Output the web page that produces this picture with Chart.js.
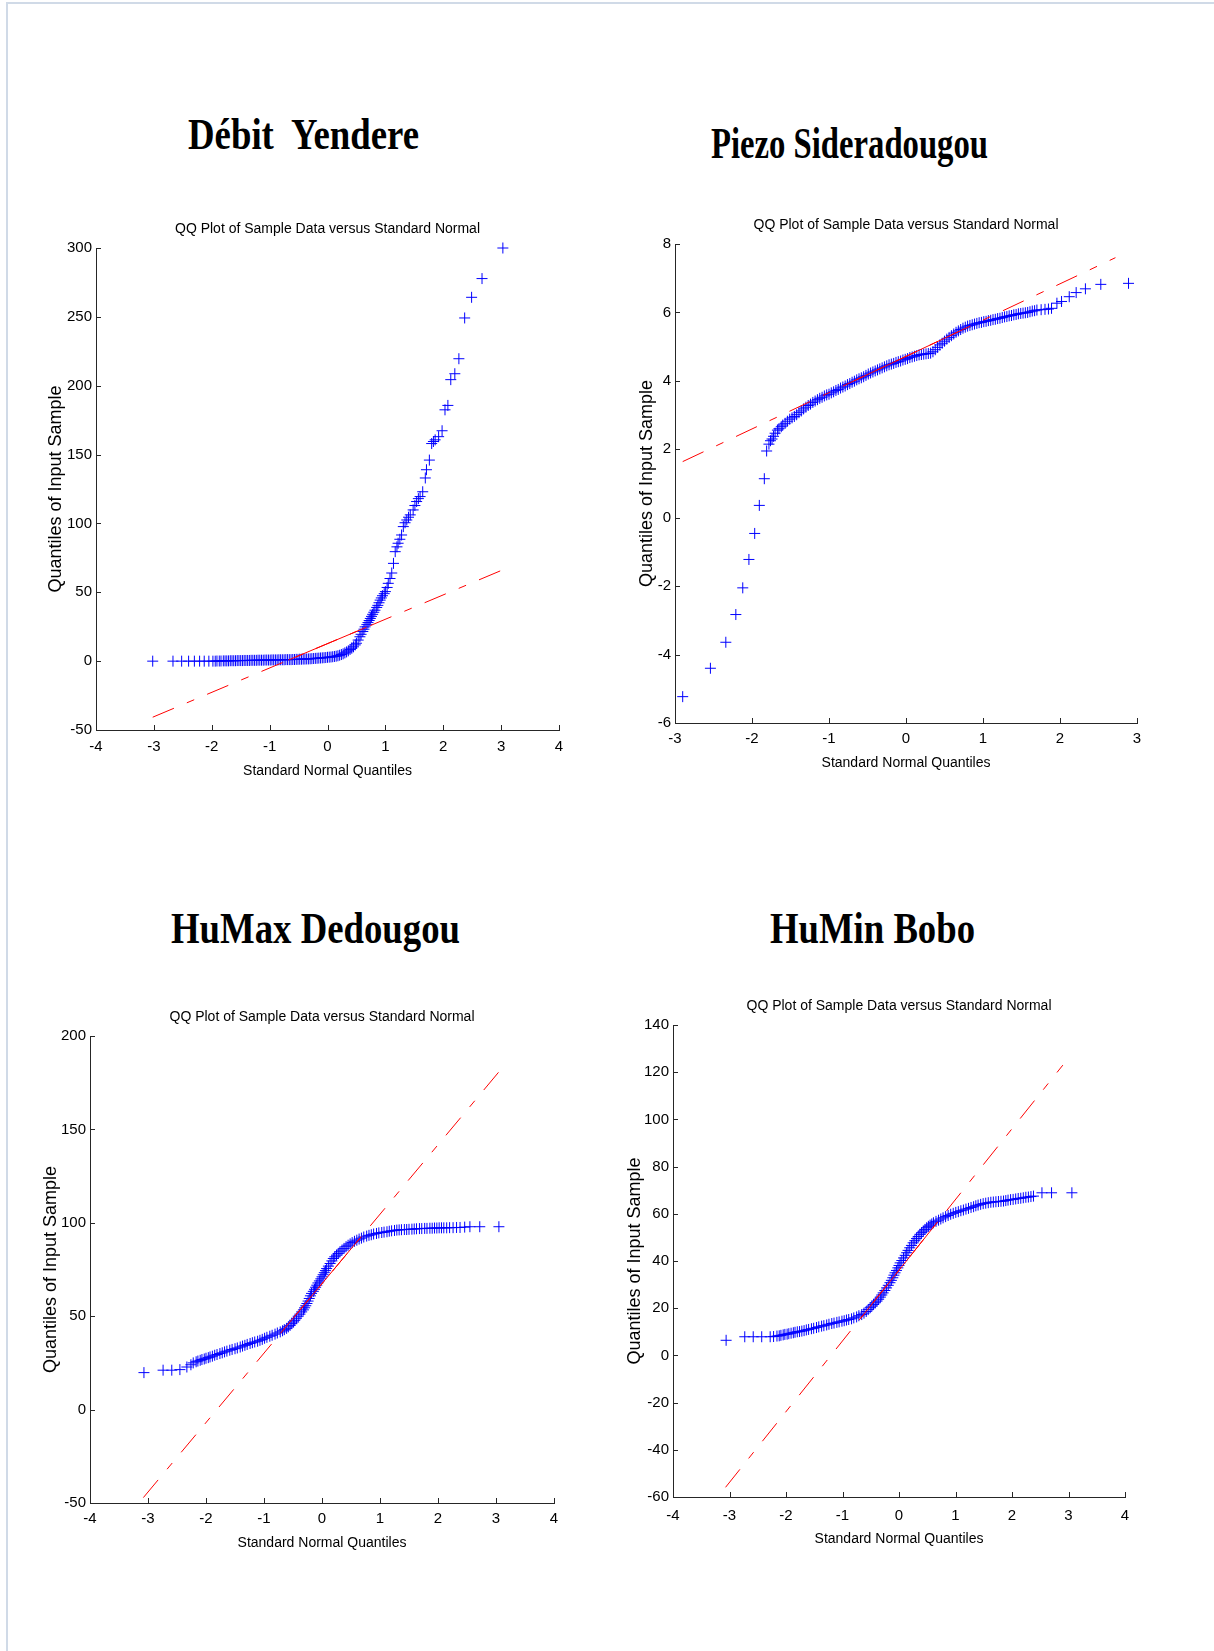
<!DOCTYPE html>
<html><head><meta charset="utf-8">
<script src="https://cdn.jsdelivr.net/npm/chart.js@4.4.0/dist/chart.umd.min.js"></script>
<style>
html,body{margin:0;padding:0;background:#fff;}
body{width:1214px;height:1651px;position:relative;overflow:hidden;}
#frame{position:absolute;left:6px;top:2px;width:1220px;height:1660px;border-left:2px solid #d0dae7;border-top:2px solid #d0dae7;}
.ttl{position:absolute;font-family:'Liberation Serif','Times New Roman',serif;font-weight:bold;line-height:1;white-space:pre;transform-origin:0 0;color:#000;}
canvas{position:absolute;}
</style></head><body>
<div id="frame"></div>
<script>
// ---------- text ----------
const titles = ['Débit  Yendere', 'Piezo Sideradougou', 'HuMax Dedougou', 'HuMin Bobo'];
const subTitle = 'QQ Plot of Sample Data versus Standard Normal';
const xLabel = 'Standard Normal Quantiles';
const yLabel = 'Quantiles of Input Sample';

// ---------- Débit Yendere ----------
const debitX = [
  -3.02,-2.67,-2.52,-2.40,-2.30,-2.21,-2.13,-2.05,-1.98,-1.94,
  -1.91,-1.87,-1.84,-1.80,-1.77,-1.74,-1.71,-1.68,-1.65,-1.62,
  -1.59,-1.56,-1.53,-1.50,-1.47,-1.44,-1.41,-1.38,-1.35,-1.32,
  -1.29,-1.26,-1.23,-1.20,-1.17,-1.14,-1.11,-1.08,-1.05,-1.02,
  -0.99,-0.96,-0.93,-0.90,-0.87,-0.84,-0.81,-0.78,-0.75,-0.72,
  -0.69,-0.66,-0.63,-0.60,-0.57,-0.54,-0.51,-0.48,-0.45,-0.42,
  -0.39,-0.36,-0.33,-0.30,-0.27,-0.24,-0.21,-0.18,-0.15,-0.12,
  -0.09,-0.06,-0.03,0.0,0.03,0.06,0.09,0.12,0.15,0.18,
  0.21,0.24,0.27,0.30,0.33,0.36,0.39,0.42,0.45,0.48,
  0.50,0.53,0.56,0.58,0.61,0.63,0.65,0.68,0.70,0.72,
  0.74,0.76,0.78,0.80,0.82,0.85,0.87,0.89,0.91,0.93,
  0.95,0.98,1.00,1.03,1.05,1.08,1.11,1.14,1.17,1.20,
  1.22,1.25,1.28,1.31,1.34,1.37,1.40,1.43,1.48,1.51,
  1.54,1.57,1.60,1.645,1.69,1.71,1.76,1.80,1.83,1.86,
  1.92,1.98,2.03,2.08,2.13,2.20,2.27,2.37,2.49,2.67,
  3.03];
const debitY = [
  0,0,0,0,0,0,0,0,0,0,
  0.1,0.1,0.1,0.2,0.2,0.2,0.2,0.3,0.3,0.3,
  0.3,0.4,0.4,0.4,0.4,0.5,0.5,0.5,0.5,0.6,
  0.6,0.6,0.6,0.7,0.7,0.7,0.7,0.8,0.8,0.8,
  0.8,0.9,0.9,0.9,0.9,1.0,1.0,1.0,1.0,1.1,
  1.1,1.1,1.1,1.2,1.2,1.3,1.3,1.4,1.4,1.5,
  1.5,1.6,1.6,1.7,1.8,1.9,2.0,2.1,2.2,2.3,
  2.4,2.5,2.6,2.8,2.9,3.0,3.2,3.4,3.6,3.9,
  4.3,4.8,5.3,6.0,6.7,7.5,8.5,9.4,10.4,11.8,
  13.0,15.3,17.7,19.5,21.5,23.2,24.9,26.5,28.0,29.5,
  31.0,32.5,34.0,35.5,37.0,39.0,40.5,42.4,44.3,45.9,
  47.5,49.0,50.5,53.5,56.5,60.0,64.0,71.0,79.5,83.0,
  85.6,88.5,91.6,97.7,100.5,102.5,104.5,106.2,109.8,113.0,
  115.9,118.0,119.5,123.0,133.0,139.0,146.0,158.0,159.5,160.7,
  163.0,167.3,182.5,185.7,204.4,208.7,219.6,249.2,264.2,277.8,
  300];
const debitRefX = [-3.02, 3.04];
const debitRefY = [-40.7, 66.5];
const debitIqrX = [-0.674, 0.674];
const debitIqrY = [0.8, 24.6];
const debitXRange = [-4, 4, 1];
const debitYRange = [-50, 300, 50];

// ---------- Piezo Sideradougou ----------
const piezoX = [
  -2.90,-2.54,-2.34,-2.21,-2.12,-2.04,-1.965,-1.905,-1.84,-1.81,
  -1.78,-1.76,-1.74,-1.72,-1.70,-1.67,-1.65,-1.62,-1.60,-1.57,
  -1.54,-1.51,-1.48,-1.45,-1.42,-1.39,-1.36,-1.33,-1.30,-1.27,
  -1.24,-1.21,-1.18,-1.15,-1.12,-1.09,-1.06,-1.03,-1.00,-0.97,
  -0.94,-0.91,-0.88,-0.85,-0.82,-0.79,-0.76,-0.73,-0.70,-0.67,
  -0.64,-0.61,-0.58,-0.55,-0.52,-0.49,-0.46,-0.43,-0.40,-0.37,
  -0.34,-0.31,-0.28,-0.25,-0.22,-0.19,-0.16,-0.13,-0.10,-0.07,
  -0.04,-0.01,0.02,0.05,0.08,0.11,0.14,0.17,0.20,0.23,
  0.26,0.29,0.32,0.35,0.38,0.41,0.44,0.47,0.50,0.53,
  0.56,0.59,0.62,0.65,0.68,0.71,0.74,0.77,0.80,0.83,
  0.86,0.89,0.92,0.95,0.98,1.01,1.04,1.07,1.10,1.13,
  1.16,1.19,1.22,1.25,1.28,1.31,1.34,1.37,1.40,1.43,
  1.46,1.49,1.52,1.55,1.58,1.61,1.64,1.67,1.70,1.755,
  1.805,1.85,1.89,1.96,2.02,2.12,2.21,2.33,2.53,2.89];
const piezoY = [
  -5.23,-4.40,-3.64,-2.83,-2.05,-1.22,-0.46,0.36,1.14,1.95,
  2.15,2.25,2.30,2.38,2.47,2.56,2.60,2.66,2.71,2.76,
  2.82,2.88,2.92,2.96,3.01,3.07,3.12,3.18,3.23,3.28,
  3.32,3.37,3.41,3.45,3.49,3.52,3.56,3.59,3.61,3.65,
  3.68,3.72,3.75,3.79,3.82,3.85,3.89,3.92,3.96,3.99,
  4.03,4.06,4.09,4.12,4.16,4.20,4.23,4.26,4.29,4.32,
  4.35,4.38,4.41,4.44,4.47,4.49,4.51,4.54,4.56,4.58,
  4.61,4.63,4.65,4.68,4.70,4.72,4.74,4.76,4.77,4.78,
  4.79,4.80,4.81,4.85,4.91,4.98,5.05,5.10,5.16,5.22,
  5.27,5.32,5.37,5.42,5.46,5.50,5.54,5.57,5.60,5.62,
  5.64,5.66,5.68,5.70,5.71,5.73,5.74,5.76,5.77,5.79,
  5.80,5.82,5.83,5.85,5.87,5.88,5.90,5.91,5.93,5.94,
  5.96,5.97,5.98,5.99,6.00,6.02,6.04,6.05,6.07,6.08,
  6.09,6.10,6.12,6.27,6.32,6.46,6.58,6.69,6.82,6.85];
const piezoRefX = [-2.90, 2.72];
const piezoRefY = [1.64, 7.6];
const piezoIqrX = [-0.674, 0.674];
const piezoIqrY = [4.0, 5.43];
const piezoXRange = [-3, 3, 1];
const piezoYRange = [-6, 8, 2];

// ---------- HuMax Dedougou ----------
const humaxX = [
  -3.07,-2.74,-2.59,-2.45,-2.33,-2.26,-2.22,-2.17,-2.14,-2.10,
  -2.07,-2.03,-2.00,-1.96,-1.93,-1.89,-1.85,-1.81,-1.76,-1.72,
  -1.68,-1.64,-1.59,-1.55,-1.50,-1.46,-1.41,-1.37,-1.33,-1.29,
  -1.24,-1.20,-1.16,-1.11,-1.07,-1.03,-0.99,-0.95,-0.90,-0.86,
  -0.81,-0.77,-0.72,-0.68,-0.65,-0.61,-0.58,-0.55,-0.52,-0.49,
  -0.47,-0.44,-0.41,-0.38,-0.35,-0.32,-0.30,-0.28,-0.26,-0.24,
  -0.22,-0.20,-0.18,-0.15,-0.13,-0.11,-0.09,-0.07,-0.045,-0.02,
  0.0,0.02,0.04,0.06,0.08,0.11,0.14,0.17,0.195,0.22,
  0.25,0.28,0.31,0.345,0.38,0.415,0.45,0.485,0.52,0.56,
  0.60,0.64,0.68,0.72,0.77,0.81,0.85,0.89,0.94,0.98,
  1.03,1.07,1.12,1.16,1.20,1.25,1.29,1.33,1.37,1.42,
  1.46,1.50,1.55,1.59,1.63,1.68,1.72,1.77,1.81,1.86,
  1.90,1.94,1.98,2.02,2.06,2.10,2.15,2.20,2.26,2.32,
  2.38,2.46,2.55,2.72,3.05];
const humaxY = [
  19.8,21.1,21.1,21.4,22.8,24.0,25.0,25.6,26.0,26.4,
  26.8,27.1,27.5,27.8,28.2,28.6,29.1,29.5,30.0,30.4,
  30.9,31.3,31.8,32.2,32.6,33.0,33.5,34.0,34.4,34.9,
  35.4,35.8,36.2,36.6,37.1,37.6,38.2,38.7,39.3,39.8,
  40.4,41.0,41.6,42.2,42.8,43.5,44.3,45.1,46.0,46.9,
  47.8,48.9,50.0,51.1,52.3,53.4,54.5,55.6,56.8,58.1,
  59.5,60.9,62.2,63.3,64.4,65.5,66.6,67.8,68.9,70.0,
  71.1,72.2,73.3,74.4,75.5,76.8,78.2,79.6,80.9,81.8,
  82.7,83.6,84.5,85.4,86.3,87.2,88.0,88.7,89.4,90.1,
  90.7,91.3,91.8,92.4,92.9,93.3,93.6,94.0,94.3,94.6,
  94.8,95.0,95.2,95.5,95.7,95.9,96.1,96.2,96.3,96.4,
  96.4,96.5,96.6,96.7,96.8,96.9,96.9,97.0,97.0,97.1,
  97.1,97.2,97.2,97.3,97.3,97.3,97.3,97.4,97.4,97.5,
  97.5,97.7,97.9,97.9,97.9];
const humaxRefX = [-3.08, 3.05];
const humaxRefY = [-47.1, 180.8];
const humaxIqrX = [-0.674, 0.674];
const humaxIqrY = [42.4, 92.5];
const humaxXRange = [-4, 4, 1];
const humaxYRange = [-50, 200, 50];

// ---------- HuMin Bobo ----------
const huminX = [
  -3.06,-2.73,-2.58,-2.43,-2.28,-2.22,-2.16,-2.12,-2.09,-2.05,
  -2.02,-1.98,-1.95,-1.91,-1.87,-1.84,-1.80,-1.76,-1.72,-1.68,
  -1.64,-1.60,-1.55,-1.51,-1.46,-1.42,-1.37,-1.33,-1.28,-1.24,
  -1.19,-1.15,-1.10,-1.06,-1.01,-0.97,-0.93,-0.89,-0.84,-0.80,
  -0.75,-0.71,-0.66,-0.62,-0.58,-0.545,-0.51,-0.48,-0.45,-0.42,
  -0.39,-0.36,-0.33,-0.305,-0.28,-0.25,-0.22,-0.19,-0.16,-0.135,
  -0.11,-0.09,-0.07,-0.045,-0.02,0.0,0.02,0.05,0.08,0.11,
  0.136,0.16,0.19,0.22,0.25,0.28,0.31,0.34,0.37,0.40,
  0.43,0.46,0.49,0.52,0.55,0.58,0.61,0.655,0.70,0.74,
  0.78,0.825,0.87,0.915,0.96,1.005,1.05,1.095,1.14,1.185,
  1.23,1.275,1.32,1.36,1.40,1.445,1.49,1.535,1.58,1.625,
  1.67,1.715,1.76,1.805,1.85,1.89,1.93,1.975,2.02,2.065,
  2.11,2.155,2.20,2.245,2.29,2.335,2.38,2.53,2.70,3.06];
const huminY = [
  6.4,7.9,7.9,7.9,7.9,8.0,8.2,8.3,8.5,8.7,
  8.9,9.0,9.2,9.4,9.6,9.8,10.0,10.1,10.3,10.5,
  10.8,11.0,11.3,11.5,11.8,12.1,12.4,12.6,12.9,13.2,
  13.5,13.7,14.0,14.2,14.5,14.7,15.0,15.2,15.5,15.9,
  16.3,16.8,17.3,17.9,18.6,19.4,20.2,20.9,21.6,22.3,
  23.0,23.8,24.7,25.6,26.5,27.5,28.6,29.7,30.8,31.8,
  32.9,34.0,35.0,36.0,37.1,38.1,39.2,40.2,41.3,42.4,
  43.5,44.5,45.6,46.6,47.7,48.6,49.5,50.4,51.3,52.0,
  52.7,53.4,54.1,54.7,55.2,55.7,56.2,56.8,57.3,57.8,
  58.3,58.8,59.3,59.8,60.2,60.6,60.9,61.3,61.6,62.0,
  62.3,62.7,63.0,63.4,63.7,64.0,64.3,64.5,64.7,64.9,
  65.0,65.1,65.2,65.3,65.4,65.6,65.8,66.0,66.1,66.3,
  66.5,66.6,66.8,67.0,67.1,67.3,67.5,68.9,68.9,68.9];
const huminRefX = [-3.07, 2.90];
const huminRefY = [-55.9, 123.0];
const huminIqrX = [-0.674, 0.674];
const huminIqrY = [15.9, 56.3];
const huminXRange = [-4, 4, 1];
const huminYRange = [-60, 140, 20];

// ---------- layout / style ----------
const FONT = "'Liberation Sans', Arial, sans-serif";
const AXC = '#262626';
const Y_BOX = 90, X_BOX = 55, TITLE_BOX = 39, PAD_R = 30, PAD_B = 5;

const zip = (xs, ys) => xs.map((x, i) => ({x: x, y: ys[i]}));

const insideTicks = {
  id: 'insideTicks',
  afterDraw(chart) {
    const {ctx, chartArea: a, scales: {x, y}} = chart;
    ctx.save();
    ctx.strokeStyle = AXC; ctx.lineWidth = 1;
    ctx.beginPath();
    x.ticks.forEach(t => { const p = Math.round(x.getPixelForValue(t.value)) + 0.5; ctx.moveTo(p, a.bottom); ctx.lineTo(p, a.bottom - 5); });
    y.ticks.forEach(t => { const p = Math.round(y.getPixelForValue(t.value)) + 0.5; ctx.moveTo(a.left, p); ctx.lineTo(a.left + 5, p); });
    ctx.stroke();
    ctx.restore();
  }
};

function makeChart(area, d, lay) {
  const canvas = document.createElement('canvas');
  const cl = area.l - Y_BOX, ct = area.t - TITLE_BOX;
  const cw = Y_BOX + (area.r - area.l) + PAD_R, ch = TITLE_BOX + (area.b - area.t) + X_BOX + PAD_B;
  canvas.width = cw; canvas.height = ch;
  canvas.style.left = cl + 'px'; canvas.style.top = ct + 'px';
  canvas.style.width = cw + 'px'; canvas.style.height = ch + 'px';
  document.body.appendChild(canvas);
  const f14 = {family: FONT, size: 14, lineHeight: '17px'};
  const f15 = {family: FONT, size: 15, lineHeight: '18px'};
  new Chart(canvas, {
    type: 'scatter',
    data: {datasets: [
      {data: zip(d.iqrX, d.iqrY), showLine: true, borderColor: '#ff0000', borderWidth: 1, pointRadius: 0, clip: false},
      {data: zip(d.refX, d.refY), showLine: true, borderColor: '#ff0000', borderWidth: 1, borderDash: [23, 14, 8, 14], pointRadius: 0, clip: false},
      {data: zip(d.x, d.y), showLine: false, pointStyle: 'cross', pointRadius: 5.5, borderColor: '#0000ff', pointBorderColor: '#0000ff', backgroundColor: '#0000ff', pointBorderWidth: 1, clip: false}
    ]},
    options: {
      responsive: false, animation: false, devicePixelRatio: 1,
      layout: {padding: {left: 0, top: 0, right: PAD_R, bottom: PAD_B}},
      plugins: {
        legend: {display: false}, tooltip: {enabled: false},
        title: {display: true, text: subTitle, fullSize: false, color: '#000', font: Object.assign({weight: 'normal'}, f14), padding: {top: 12, bottom: 10}}
      },
      scales: {
        x: {type: 'linear', position: 'bottom', min: d.xr[0], max: d.xr[1],
          afterFit: s => { s.height = X_BOX; },
          grid: {display: false, drawTicks: false}, border: {display: true, color: AXC, width: 1},
          ticks: {stepSize: d.xr[2], autoSkip: false, maxRotation: 0, color: '#000', padding: lay.xtp, font: f15},
          title: {display: true, text: xLabel, color: '#000', font: f14, padding: {top: 0, bottom: lay.xtb}}},
        y: {type: 'linear', position: 'left', min: d.yr[0], max: d.yr[1],
          afterFit: s => { s.width = Y_BOX; },
          grid: {display: false, drawTicks: false}, border: {display: true, color: AXC, width: 1},
          ticks: {stepSize: d.yr[2], autoSkip: false, color: '#000', padding: 4, font: f15},
          title: {display: true, text: yLabel, color: '#000', font: {family: FONT, size: 18, lineHeight: '22px'}, padding: {top: lay.ytp, bottom: 0}}}
      }
    },
    plugins: [insideTicks]
  });
}

makeChart({l: 96, t: 248, r: 559, b: 730},
  {x: debitX, y: debitY, refX: debitRefX, refY: debitRefY, iqrX: debitIqrX, iqrY: debitIqrY, xr: debitXRange, yr: debitYRange},
  {xtp: 7.5, xtb: 5.5, ytp: 39});
makeChart({l: 675, t: 244, r: 1137, b: 723},
  {x: piezoX, y: piezoY, refX: piezoRefX, refY: piezoRefY, iqrX: piezoIqrX, iqrY: piezoIqrY, xr: piezoXRange, yr: piezoYRange},
  {xtp: 7, xtb: 6, ytp: 51});
makeChart({l: 90, t: 1036, r: 554, b: 1503},
  {x: humaxX, y: humaxY, refX: humaxRefX, refY: humaxRefY, iqrX: humaxIqrX, iqrY: humaxIqrY, xr: humaxXRange, yr: humaxYRange},
  {xtp: 6.5, xtb: 6.5, ytp: 40});
makeChart({l: 673, t: 1025, r: 1125, b: 1497},
  {x: huminX, y: huminY, refX: huminRefX, refY: huminRefY, iqrX: huminIqrX, iqrY: huminIqrY, xr: huminXRange, yr: huminYRange},
  {xtp: 9.5, xtb: 4.5, ytp: 41});

// ---------- big titles (HTML text) ----------
const titleBoxes = [
  {left: 188, right: 419, baseline: 150, size: 44},
  {left: 711, right: 988, baseline: 159, size: 44},
  {left: 171, right: 460, baseline: 944, size: 44},
  {left: 770, right: 975, baseline: 944, size: 44}
];
titles.forEach((t, i) => {
  const b = titleBoxes[i];
  const el = document.createElement('div');
  el.className = 'ttl';
  el.textContent = t;
  el.style.fontSize = b.size + 'px';
  el.style.left = b.left + 'px';
  el.style.top = (b.baseline - 0.8375 * b.size) + 'px';
  document.body.appendChild(el);
  const w = el.getBoundingClientRect().width;
  el.style.transform = 'scaleX(' + ((b.right - b.left) / w) + ')';
});
</script>
</body></html>
